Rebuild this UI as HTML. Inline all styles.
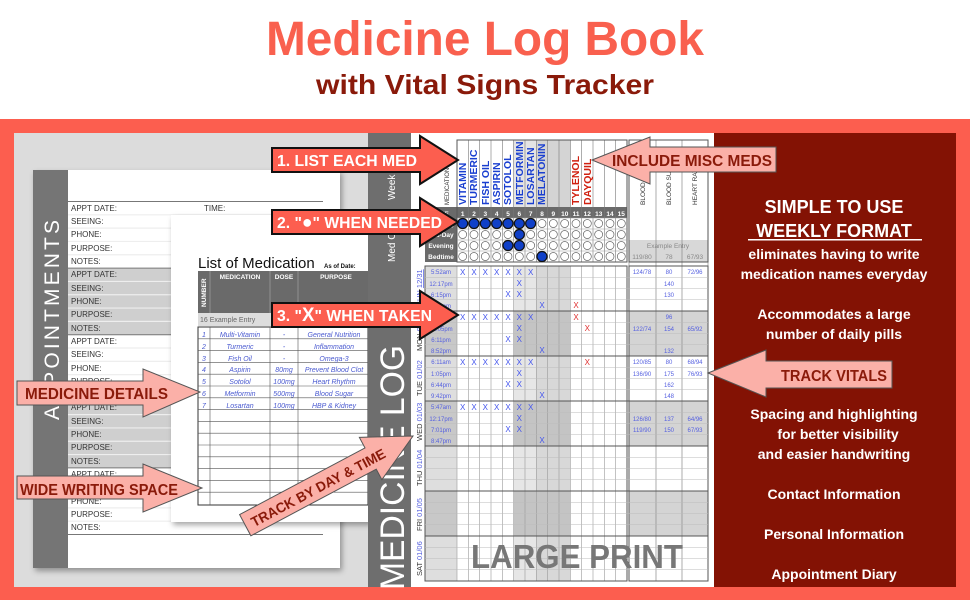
<!DOCTYPE html>
<html><head><meta charset="utf-8"><style>
html,body{margin:0;padding:0;background:#fff;}
svg{display:block;font-family:"Liberation Sans",sans-serif;}
</style></head><body>
<svg id="s" width="970" height="600" viewBox="0 0 970 600" xmlns="http://www.w3.org/2000/svg">
<defs>
<filter id="sh" x="-10%" y="-10%" width="120%" height="120%"><feDropShadow dx="2" dy="3" stdDeviation="3" flood-color="#000" flood-opacity="0.35"/></filter>
</defs>
<rect width="970" height="600" fill="#fff"/>
<text x="266" y="55" font-size="48" font-weight="bold" fill="#f9604e" textLength="438" lengthAdjust="spacingAndGlyphs">Medicine Log Book</text>
<text x="316" y="94" font-size="28" font-weight="bold" fill="#8a1a0a" textLength="338" lengthAdjust="spacingAndGlyphs">with Vital Signs Tracker</text>
<rect x="0" y="119" width="970" height="481" fill="#fc5e4f"/>
<rect x="14" y="133" width="700" height="454" fill="#dcdcdc"/>
<rect x="714" y="133" width="242" height="454" fill="#831204"/>

<!-- Appointments page -->
<g filter="url(#sh)"><rect x="33" y="170" width="307" height="398" fill="#fff"/></g>
<rect x="33" y="170" width="35" height="398" fill="#757575"/>
<text transform="translate(59,420) rotate(-90)" font-size="21" fill="#fff" textLength="200">APPOINTMENTS</text>
<g id="appt"></g>
<g font-size="8" fill="#333">
<text x="71" y="211">APPT DATE:</text><text x="204" y="211">TIME:</text>
<text x="71" y="224">SEEING:</text><text x="71" y="237">PHONE:</text><text x="71" y="251">PURPOSE:</text><text x="71" y="264">NOTES:</text>
<text x="71" y="277">APPT DATE:</text><text x="71" y="291">SEEING:</text><text x="71" y="304">PHONE:</text><text x="71" y="317">PURPOSE:</text><text x="71" y="331">NOTES:</text>
<text x="71" y="344">APPT DATE:</text><text x="71" y="357">SEEING:</text><text x="71" y="371">PHONE:</text><text x="71" y="384">PURPOSE:</text><text x="71" y="397">NOTES:</text>
<text x="71" y="410">APPT DATE:</text><text x="71" y="424">SEEING:</text><text x="71" y="437">PHONE:</text><text x="71" y="450">PURPOSE:</text><text x="71" y="464">NOTES:</text>
<text x="71" y="477">APPT DATE:</text><text x="71" y="490">SEEING:</text><text x="71" y="504">PHONE:</text><text x="71" y="517">PURPOSE:</text><text x="71" y="530">NOTES:</text>
</g>

<!-- List of medication page -->
<g filter="url(#sh)"><rect x="171" y="215" width="200" height="307" fill="#fff"/></g>
<text x="198" y="268" font-size="15" fill="#111">List of Medication</text>
<text x="324" y="268" font-size="6" font-weight="bold" fill="#111">As of Date:</text>
<rect x="198" y="271" width="170" height="42" fill="#6a6a6a"/>
<rect x="198" y="313" width="170" height="13" fill="#ddd"/>
<g font-size="6.5" font-weight="bold" fill="#fff" text-anchor="middle">
<text x="240" y="279">MEDICATION</text><text x="284" y="279">DOSE</text><text x="336" y="279">PURPOSE</text>
<text transform="translate(206,307) rotate(-90)" text-anchor="start">NUMBER</text>
</g>
<g stroke="#aaa" stroke-width="0.6"><line x1="210" y1="271" x2="210" y2="313"/><line x1="270" y1="271" x2="270" y2="313"/><line x1="298" y1="271" x2="298" y2="313"/></g>
<text x="200" y="322" font-size="7" fill="#666">16 Example Entry</text>
<g id="medtab"></g>
<g font-size="7" fill="#4a5ad0" text-anchor="middle" font-style="italic">
<text x="204" y="337">1</text><text x="240" y="337">Multi-Vitamin</text><text x="284" y="337">-</text><text x="334" y="337">General Nutrition</text>
<text x="204" y="349">2</text><text x="240" y="349">Turmeric</text><text x="284" y="349">-</text><text x="334" y="349">Inflammation</text>
<text x="204" y="361">3</text><text x="240" y="361">Fish Oil</text><text x="284" y="361">-</text><text x="334" y="361">Omega-3</text>
<text x="204" y="372">4</text><text x="240" y="372">Aspirin</text><text x="284" y="372">80mg</text><text x="334" y="372">Prevent Blood Clot</text>
<text x="204" y="384">5</text><text x="240" y="384">Sotolol</text><text x="284" y="384">100mg</text><text x="334" y="384">Heart Rhythm</text>
<text x="204" y="396">6</text><text x="240" y="396">Metformin</text><text x="284" y="396">500mg</text><text x="334" y="396">Blood Sugar</text>
<text x="204" y="408">7</text><text x="240" y="408">Losartan</text><text x="284" y="408">100mg</text><text x="334" y="408">HBP &amp; Kidney</text>
</g>

<!-- Log book -->
<rect x="368" y="133" width="43" height="454" fill="#6e6e6e"/>
<rect x="411" y="133" width="303" height="454" fill="#fff"/>
<text transform="translate(404,590) rotate(-90)" font-size="34" fill="#fff" textLength="245" lengthAdjust="spacingAndGlyphs">MEDICINE LOG</text>
<text transform="translate(395,200) rotate(-90)" font-size="10" fill="#fff">Week</text>
<text transform="translate(395,262) rotate(-90)" font-size="10" fill="#fff">Med Cl</text>
<g id="log"></g>
<g font-size="10.5" font-weight="bold" fill="#1a3fd0">
<text transform="translate(466,205) rotate(-90)">VITAMIN</text>
<text transform="translate(477,205) rotate(-90)">TURMERIC</text>
<text transform="translate(489,205) rotate(-90)">FISH OIL</text>
<text transform="translate(500,205) rotate(-90)">ASPIRIN</text>
<text transform="translate(511,205) rotate(-90)">SOTOLOL</text>
<text transform="translate(523,205) rotate(-90)">METFORMIN</text>
<text transform="translate(534,205) rotate(-90)">LOSARTAN</text>
<text transform="translate(545,205) rotate(-90)">MELATONIN</text>
<text transform="translate(579,205) rotate(-90)" fill="#d02010">TYLENOL</text>
<text transform="translate(591,205) rotate(-90)" fill="#d02010">DAYQUIL</text>
</g>
<text transform="translate(449,205) rotate(-90)" font-size="6" fill="#333">MEDICATION</text>
<g font-size="6.5" fill="#333">
<text transform="translate(645,205) rotate(-90)">BLOOD PRESSURE</text>
<text transform="translate(671,205) rotate(-90)">BLOOD SUGAR</text>
<text transform="translate(697,205) rotate(-90)">HEART RATE / OX</text>
</g>
<g font-size="6.5" font-weight="bold" fill="#fff" text-anchor="middle">
<text x="462.7" y="216">1</text><text x="474" y="216">2</text><text x="485.3" y="216">3</text><text x="496.7" y="216">4</text><text x="508" y="216">5</text><text x="519.3" y="216">6</text><text x="530.7" y="216">7</text><text x="542" y="216">8</text><text x="553.3" y="216">9</text><text x="564.7" y="216">10</text><text x="576" y="216">11</text><text x="587.3" y="216">12</text><text x="598.7" y="216">13</text><text x="610" y="216">14</text><text x="621.3" y="216">15</text>
<text x="441" y="216">TIME</text><text x="441" y="226">Morning</text><text x="441" y="237">Mid-Day</text><text x="441" y="248">Evening</text><text x="441" y="259">Bedtime</text>
</g>
<g font-size="6.5" fill="#888" text-anchor="middle"><text x="668" y="248">Example Entry</text><text x="642" y="259">119/80</text><text x="669" y="259">78</text><text x="695" y="259">67/93</text></g>
<g font-size="6" fill="#5560e0" text-anchor="middle">
<text x="441" y="274">5:52am</text><text x="441" y="286">12:17pm</text><text x="441" y="297">6:15pm</text><text x="441" y="308">9:31pm</text>
<text x="441" y="319">6:11am</text><text x="441" y="331">12:05pm</text><text x="441" y="342">6:11pm</text><text x="441" y="353">8:52pm</text>
<text x="441" y="364">6:11am</text><text x="441" y="376">1:05pm</text><text x="441" y="387">6:44pm</text><text x="441" y="398">9:42pm</text>
<text x="441" y="409">5:47am</text><text x="441" y="421">12:17pm</text><text x="441" y="432">7:01pm</text><text x="441" y="443">8:47pm</text>
<text x="642" y="274">124/78</text><text x="669" y="274">80</text><text x="695" y="274">72/96</text>
<text x="669" y="286">140</text><text x="669" y="297">130</text>
<text x="669" y="319">96</text><text x="642" y="331">122/74</text><text x="669" y="331">154</text><text x="695" y="331">65/92</text><text x="669" y="353">132</text>
<text x="642" y="364">120/85</text><text x="669" y="364">80</text><text x="695" y="364">68/94</text>
<text x="642" y="376">136/90</text><text x="669" y="376">175</text><text x="695" y="376">76/93</text><text x="669" y="387">162</text><text x="669" y="398">148</text>
<text x="642" y="421">126/80</text><text x="669" y="421">137</text><text x="695" y="421">64/96</text>
<text x="642" y="432">119/90</text><text x="669" y="432">150</text><text x="695" y="432">67/93</text>
</g>
<g font-size="8" fill="#4455ee" text-anchor="middle">
<text x="462.7" y="275">X</text><text x="474" y="275">X</text><text x="485.3" y="275">X</text><text x="496.7" y="275">X</text><text x="508" y="275">X</text><text x="519.3" y="275">X</text><text x="530.7" y="275">X</text>
<text x="519.3" y="286">X</text><text x="508" y="297">X</text><text x="519.3" y="297">X</text><text x="542" y="308">X</text>
<text x="462.7" y="320">X</text><text x="474" y="320">X</text><text x="485.3" y="320">X</text><text x="496.7" y="320">X</text><text x="508" y="320">X</text><text x="519.3" y="320">X</text><text x="530.7" y="320">X</text>
<text x="519.3" y="331">X</text><text x="508" y="342">X</text><text x="519.3" y="342">X</text><text x="542" y="353">X</text>
<text x="462.7" y="365">X</text><text x="474" y="365">X</text><text x="485.3" y="365">X</text><text x="496.7" y="365">X</text><text x="508" y="365">X</text><text x="519.3" y="365">X</text><text x="530.7" y="365">X</text>
<text x="519.3" y="376">X</text><text x="508" y="387">X</text><text x="519.3" y="387">X</text><text x="542" y="398">X</text>
<text x="462.7" y="410">X</text><text x="474" y="410">X</text><text x="485.3" y="410">X</text><text x="496.7" y="410">X</text><text x="508" y="410">X</text><text x="519.3" y="410">X</text><text x="530.7" y="410">X</text>
<text x="519.3" y="421">X</text><text x="508" y="432">X</text><text x="519.3" y="432">X</text><text x="542" y="443">X</text>
<g fill="#e03030"><text x="576" y="308">X</text><text x="576" y="320">X</text><text x="587.3" y="331">X</text><text x="587.3" y="365">X</text></g>
</g>
<g font-size="7.5" fill="#5560e0">
<text transform="translate(422,306) rotate(-90)">SUN <tspan text-decoration="underline">12/31</tspan></text>
<text transform="translate(422,351) rotate(-90)"><tspan fill="#333">MON</tspan> 01/01</text>
<text transform="translate(422,396) rotate(-90)"><tspan fill="#333">TUE</tspan> 01/02</text>
<text transform="translate(422,441) rotate(-90)"><tspan fill="#333">WED</tspan> 01/03</text>
<text transform="translate(422,486) rotate(-90)"><tspan fill="#333">THU</tspan> 01/04</text>
<text transform="translate(422,531) rotate(-90)"><tspan fill="#333">FRI</tspan> 01/05</text>
<text transform="translate(422,576) rotate(-90)"><tspan fill="#333">SAT</tspan> 01/06</text>
</g>
<text x="577" y="568" text-anchor="middle" font-size="33" font-weight="bold" fill="#777" textLength="212" lengthAdjust="spacingAndGlyphs">LARGE PRINT</text>

<!-- Arrows -->
<g stroke="#111" stroke-width="2" fill="#fc5e4f">
<polygon points="272,148 420,148 420,136 458,160 420,184 420,172 272,172"/>
<polygon points="272,210 420,210 420,198 458,222 420,246 420,234 272,234"/>
<polygon points="272,303 420,303 420,291 458,315 420,339 420,327 272,327"/>
</g>
<g fill="#fff" font-size="16" font-weight="bold">
<text x="277" y="166" textLength="140" lengthAdjust="spacingAndGlyphs">1.  LIST EACH MED</text>
<text x="277" y="228" textLength="165" lengthAdjust="spacingAndGlyphs">2.  "<tspan font-size="18">●</tspan>" WHEN NEEDED</text>
<text x="277" y="321" textLength="155" lengthAdjust="spacingAndGlyphs">3.  "<tspan font-size="19">X</tspan>" WHEN TAKEN</text>
</g>
<g stroke="#555" stroke-width="1" fill="#fbb0a8">
<polygon points="592,160 650,137 650,147 776,147 776,172 650,172 650,184"/>
<polygon points="17,381 143,381 143,369 200,392 143,417 143,405 17,405"/>
<polygon points="17,476 143,476 143,464 202,488 143,512 143,499 17,499"/>
<polygon points="708,373 766,350 766,361 892,361 892,388 766,388 766,397"/>
<polygon transform="translate(413,436) rotate(-28)" points="0,0 -48,-24 -48,-12 -190,-12 -190,12 -48,12 -48,24"/>
</g>
<g fill="#8a1a0a" font-size="16" font-weight="bold">
<text x="612" y="166" textLength="160" lengthAdjust="spacingAndGlyphs">INCLUDE MISC MEDS</text>
<text x="25" y="399" textLength="143" lengthAdjust="spacingAndGlyphs">MEDICINE DETAILS</text>
<text x="20" y="495" textLength="158" lengthAdjust="spacingAndGlyphs">WIDE WRITING SPACE</text>
<text x="781" y="381" textLength="106" lengthAdjust="spacingAndGlyphs">TRACK VITALS</text>
<text transform="translate(413,436) rotate(-28)" x="-183" y="6" font-size="14" textLength="150" lengthAdjust="spacingAndGlyphs">TRACK BY DAY &amp; TIME</text>
</g>

<!-- Right panel -->
<g fill="#fff" font-weight="bold" text-anchor="middle">
<text x="834" y="213" font-size="18">SIMPLE TO USE</text>
<text x="834" y="237" font-size="18">WEEKLY FORMAT</text>
<rect x="748" y="239" width="174" height="1.5"/>
<g font-size="14">
<text x="834" y="259">eliminates having to write</text>
<text x="834" y="279">medication names everyday</text>
<text x="834" y="319">Accommodates a large</text>
<text x="834" y="339">number of daily pills</text>
<text x="834" y="419">Spacing and highlighting</text>
<text x="838" y="439">for better visibility</text>
<text x="834" y="459">and easier handwriting</text>
<text x="834" y="499">Contact Information</text>
<text x="834" y="539">Personal Information</text>
<text x="834" y="579">Appointment Diary</text>
</g></g>
</svg>
<script>
(function(){
var NS="http://www.w3.org/2000/svg";
function el(p,t,a){var e=document.createElementNS(NS,t);for(var k in a)e.setAttribute(k,a[k]);document.getElementById(p).appendChild(e);return e;}
for(var g=0;g<5;g++){var y0=201.5+g*66.6;if(g%2==1)el("appt","rect",{x:68,y:y0,width:255,height:66.6,fill:"#cfcfcf"});}
for(var k=0;k<=25;k++){var y=201.5+k*13.32;el("appt","line",{x1:68,y1:y,x2:323,y2:y,stroke:(k%5==0?"#777":"#eee"),"stroke-width":k%5==0?1:1.2});}
el("medtab","rect",{x:198,y:327,width:170,height:178,fill:"none",stroke:"#333","stroke-width":1});
for(var k=1;k<15;k++){var y=327+k*11.8;el("medtab","line",{x1:198,y1:y,x2:368,y2:y,stroke:"#555","stroke-width":0.6});}
[210,270,298].forEach(function(x){el("medtab","line",{x1:x,y1:327,x2:x,y2:505,stroke:"#555","stroke-width":0.6});});
var cw=11.333,x0=457;
el("log","rect",{x:425,y:207,width:32,height:55,fill:"#6a6a6a"});
el("log","rect",{x:x0,y:207,width:170,height:11,fill:"#6a6a6a"});
el("log","rect",{x:x0+5*cw,y:140,width:2*cw,height:67,fill:"#e4e4e4"});
el("log","rect",{x:x0+7*cw,y:140,width:3*cw,height:67,fill:"#d4d4d4"});
el("log","rect",{x:629,y:240,width:79,height:22,fill:"#d8d8d8"});
for(var b=0;b<7;b++){var yb=266+b*45;var odd=b%2==1;
 el("log","rect",{x:425,y:yb,width:32,height:45,fill:odd?"#c8c8c8":"#dedede"});
 if(odd){el("log","rect",{x:x0+5*cw,y:yb,width:5*cw,height:45,fill:"#c4c4c4"});el("log","rect",{x:629,y:yb,width:79,height:45,fill:"#d4d4d4"});}
 else{el("log","rect",{x:x0+5*cw,y:yb,width:2*cw,height:45,fill:"#e6e6e6"});el("log","rect",{x:x0+7*cw,y:yb,width:3*cw,height:45,fill:"#d8d8d8"});}
}
for(var i=0;i<=15;i++){var x=x0+i*cw;el("log","line",{x1:x,y1:140,x2:x,y2:262,stroke:"#777","stroke-width":0.6});el("log","line",{x1:x,y1:266,x2:x,y2:581,stroke:"#999","stroke-width":0.6});}
[629,656,682,708].forEach(function(x){el("log","line",{x1:x,y1:140,x2:x,y2:581,stroke:"#888","stroke-width":0.7});});
el("log","rect",{x:x0,y:140,width:170,height:122,fill:"none",stroke:"#555","stroke-width":1});
el("log","rect",{x:425,y:266,width:202,height:315,fill:"none",stroke:"#555","stroke-width":1});
el("log","rect",{x:629,y:140,width:79,height:122,fill:"none",stroke:"#555","stroke-width":1});
el("log","rect",{x:629,y:266,width:79,height:315,fill:"none",stroke:"#555","stroke-width":1});
for(var r=1;r<28;r++){var y=266+r*11.25;el("log","line",{x1:425,y1:y,x2:708,y2:y,stroke:r%4==0?"#555":"#bbb","stroke-width":r%4==0?1:0.6});}
[218,229,240,251].forEach(function(y){el("log","line",{x1:x0,y1:y,x2:627,y2:y,stroke:"#999","stroke-width":0.6});});
var filled={"0":[1,2,3,4,5,6,7],"1":[6],"2":[5,6],"3":[8]};
for(var rr=0;rr<4;rr++){var cy=223.5+rr*11;for(var i=1;i<=15;i++){var f=filled[rr].indexOf(i)>=0;
 el("log","circle",{cx:x0+(i-0.5)*cw,cy:cy,r:f?5:4,fill:f?"#1040c8":"#fff",stroke:f?"#111":"#666","stroke-width":f?1.2:0.7});}}
})();
</script>
</body></html>
